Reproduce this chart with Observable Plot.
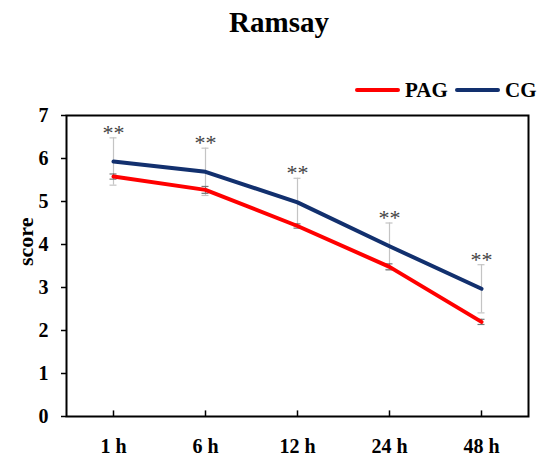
<!DOCTYPE html>
<html>
<head>
<meta charset="utf-8">
<script src="https://cdn.jsdelivr.net/npm/d3@7"></script>
<script src="https://cdn.jsdelivr.net/npm/@observablehq/plot@0.6"></script>
<style>
  html, body { margin: 0; padding: 0; background: #fff; }
  #wrap { position: relative; width: 546px; height: 458px; }
  #wrap > svg { position: absolute; left: 0; top: 0; }
</style>
</head>
<body>
<div id="wrap"></div>
<script>
const times = ["1 h", "6 h", "12 h", "24 h", "48 h"];
const pag = [5.58, 5.27, 4.43, 3.48, 2.20];
const pagSD = [0.06, 0.08, 0.05, 0.07, 0.06];
const cg = [5.93, 5.69, 4.98, 3.96, 2.97];
const cgSD = [0.55, 0.55, 0.56, 0.54, 0.56];
const sig = ["**", "**", "**", "**", "**"];
const yTicks = [0, 1, 2, 3, 4, 5, 6, 7];
const seriesNames = ["PAG", "CG"];
const seriesColors = ["#ff0000", "#12306e"];
const title = "Ramsay";
const yLabel = "score";

const rows = times.map((t, i) => ({t, pag: pag[i], pagSD: pagSD[i], cg: cg[i], cgSD: cgSD[i], sig: sig[i]}));
const serif = "'Liberation Serif', 'Times New Roman', serif";

const chart = Plot.plot({
  width: 546,
  height: 458,
  marginLeft: 66,
  marginRight: 18,
  marginTop: 115,
  marginBottom: 42,
  style: {fontFamily: serif, fontWeight: "bold", fontSize: "20px", color: "#000", background: "transparent"},
  x: {type: "point", domain: times, padding: 0.5},
  y: {domain: [0, 7]},
  marks: [
    // CG error bars (light gray)
    Plot.ruleX(rows, {x: "t", y1: d => d.cg - d.cgSD, y2: d => d.cg + d.cgSD, stroke: "#c4c4c4", strokeWidth: 1.2}),
    Plot.ruleY(rows, {x1: "t", x2: "t", y: d => d.cg + d.cgSD, insetLeft: -3.5, insetRight: -3.5, stroke: "#c4c4c4", strokeWidth: 1.2}),
    Plot.ruleY(rows, {x1: "t", x2: "t", y: d => d.cg - d.cgSD, insetLeft: -3.5, insetRight: -3.5, stroke: "#c4c4c4", strokeWidth: 1.2}),
    // PAG error bars (darker gray)
    Plot.ruleX(rows, {x: "t", y1: d => d.pag - d.pagSD, y2: d => d.pag + d.pagSD, stroke: "#777", strokeWidth: 1.2}),
    Plot.ruleY(rows, {x1: "t", x2: "t", y: d => d.pag + d.pagSD, insetLeft: -3.5, insetRight: -3.5, stroke: "#777", strokeWidth: 1.2}),
    Plot.ruleY(rows, {x1: "t", x2: "t", y: d => d.pag - d.pagSD, insetLeft: -3.5, insetRight: -3.5, stroke: "#777", strokeWidth: 1.2}),
    // lines
    Plot.line(rows, {x: "t", y: "pag", stroke: seriesColors[0], strokeWidth: 4}),
    Plot.line(rows, {x: "t", y: "cg", stroke: seriesColors[1], strokeWidth: 4}),
    // significance stars
    Plot.text(rows, {x: "t", y: d => d.cg + d.cgSD, text: "sig", dy: 2, lineAnchor: "bottom", fill: "#444", fontSize: 22, fontWeight: "normal", fontFamily: serif, letterSpacing: 1}),
    // axes
    Plot.axisY({ticks: yTicks, tickSize: 5, tickPadding: 13, tickFormat: d => d, label: null, fontSize: 20, strokeWidth: 1.5}),
    Plot.axisX({tickSize: 0, tickPadding: 22, label: null, fontSize: 20}),
    Plot.ruleX(times, {x: d => d, y1: 0, y2: 0.13, stroke: "#000", strokeWidth: 1.5}),
    Plot.frame({stroke: "#000", strokeWidth: 2}),
    // y label
    Plot.text([yLabel], {frameAnchor: "left", text: d => d, rotate: -90, dx: -41, fontSize: 22, fontWeight: "bold", fontFamily: serif})
  ]
});

const wrap = document.getElementById("wrap");
wrap.appendChild(chart);

// title and legend overlay
const svg = d3.select(wrap).append("svg")
  .attr("width", 546).attr("height", 458)
  .style("pointer-events", "none");
svg.append("text")
  .attr("x", 279).attr("y", 32)
  .attr("text-anchor", "middle")
  .attr("font-family", serif).attr("font-weight", "bold").attr("font-size", 29)
  .text(title);

const leg = svg.append("g").attr("transform", "translate(0,90)");
const legX = [357, 457];
seriesNames.forEach((name, i) => {
  leg.append("line").attr("x1", legX[i]).attr("x2", legX[i] + 41).attr("y1", 0).attr("y2", 0)
    .attr("stroke", seriesColors[i]).attr("stroke-width", 4).attr("stroke-linecap", "round");
  leg.append("text").attr("x", legX[i] + 48).attr("y", 6.5)
    .attr("font-family", serif).attr("font-weight", "bold").attr("font-size", 21)
    .text(name);
});
</script>
</body>
</html>
